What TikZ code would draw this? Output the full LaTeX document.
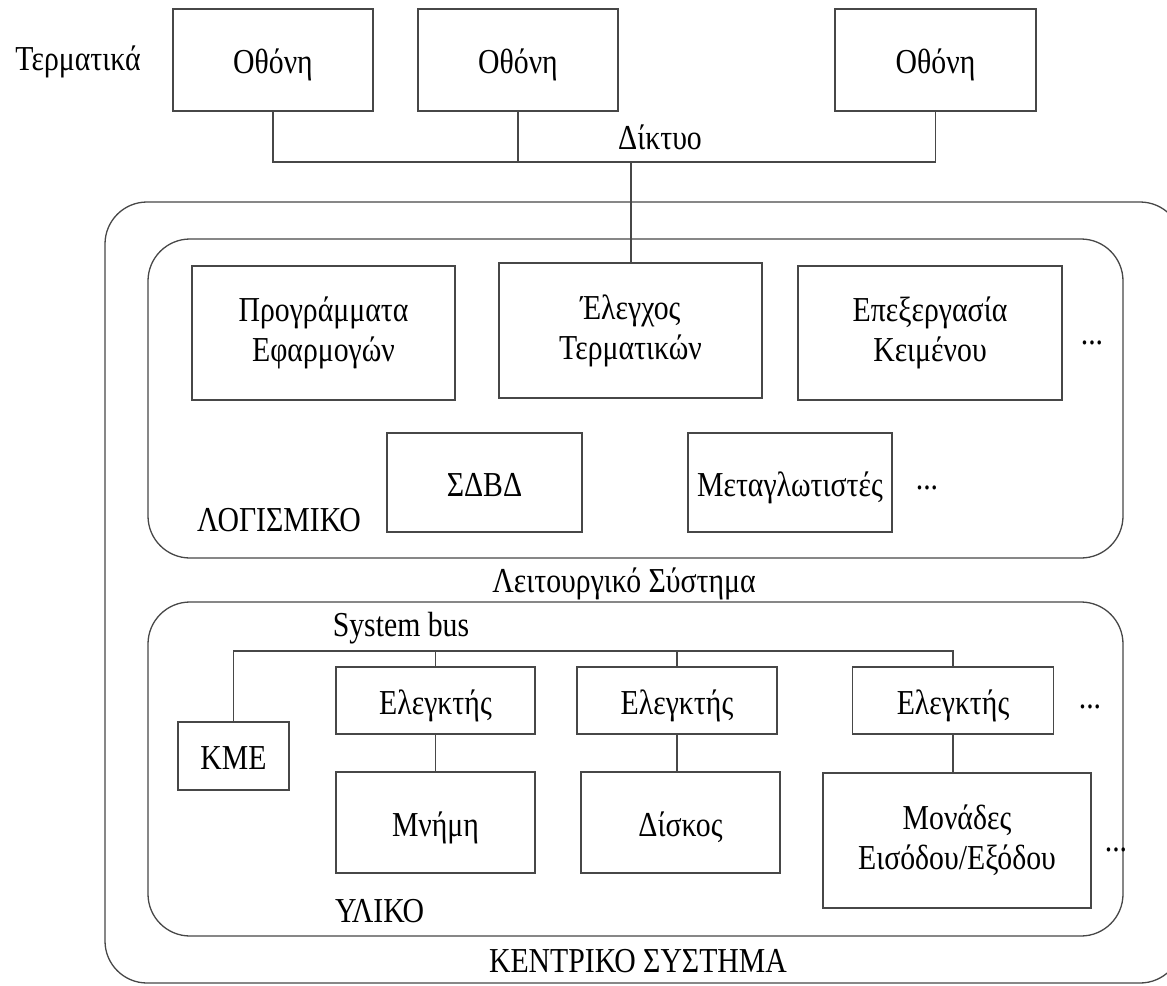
\documentclass[tikz,border=0pt]{standalone}
\usepackage{fontspec}
\setmainfont{Liberation Serif}[FakeStretch=0.85]
\newcommand\labfont{\fontsize{35}{40}\selectfont}
\begin{document}
\begin{tikzpicture}[x=1pt,y=-1pt,
  line/.style={draw=black!72, line width=1.3pt},
  box/.style={line, rectangle, inner sep=0pt, outer sep=0pt, align=center, font=\labfont},
  one/.style={text height=31pt, text depth=4pt},
  frame/.style={line, rounded corners=42pt},
  lab/.style={inner sep=0pt, font=\labfont},
  dots/.style={inner sep=0pt, font=\labfont, anchor=base}]
\useasboundingbox (0,0) rectangle (1167,985);
\clip (0,0) rectangle (1167,985);

% terminals and network
\node[lab] (term) at (78,62) {Τερματικά};
\node[box, one, minimum width=200pt, minimum height=102pt] (scr1) at (273,60) {Οθόνη};
\node[box, one, minimum width=200pt, minimum height=102pt] (scr2) at (518,60) {Οθόνη};
\node[box, one, minimum width=201pt, minimum height=102pt] (scr3) at (935.5,60) {Οθόνη};
\node[lab] (net label) at (660,137) {Δίκτυο};
\coordinate (net) at (631,162);

% central system frames
\draw[frame] (105,202) rectangle (1182,983);
\draw[frame] (148,239) rectangle (1123,558);
\draw[frame] (148,602) rectangle (1123,936);

% software
\node[box, minimum width=263pt, minimum height=134pt] (prog) at (323.5,333) {Προγράμματα\\Εφαρμογών};
\node[box, minimum width=263pt, minimum height=135pt] (ctlterm) at (630.5,330.5) {Έλεγχος\\Τερματικών};
\node[box, minimum width=264pt, minimum height=134pt] (edit) at (930,333) {Επεξεργασία\\Κειμένου};
\node[dots] (dots1) at (1092,344) {...};
\node[box, one, minimum width=195pt, minimum height=99pt] (dbms) at (484.5,482.5) {ΣΔΒΔ};
\node[box, one, minimum width=204pt, minimum height=99pt] (comp) at (790,482.5) {Μεταγλωτιστές};
\node[dots] (dots2) at (927,489) {...};
\node[lab, anchor=west] (sw) at (197,520) {ΛΟΓΙΣΜΙΚΟ};
\node[lab] (os) at (624,584) {Λειτουργικό Σύστημα};

% hardware
\node[lab] (buslabel) at (401,628) {System bus};
\coordinate (bus) at (0,651);
\node[box, one, minimum width=111pt, minimum height=68pt] (cpu) at (233.5,756) {ΚΜΕ};
\node[box, one, minimum width=199pt, minimum height=67pt] (ctl1) at (435.5,700.5) {Ελεγκτής};
\node[box, one, minimum width=200pt, minimum height=67pt] (ctl2) at (677,700.5) {Ελεγκτής};
\node[box, one, minimum width=201pt, minimum height=67pt] (ctl3) at (953,700.5) {Ελεγκτής};
\node[dots] (dots3) at (1090,708) {...};
\node[box, one, minimum width=199pt, minimum height=101pt] (mem) at (435.5,822.5) {Μνήμη};
\node[box, one, minimum width=199pt, minimum height=101pt] (disk) at (680.5,822.5) {Δίσκος};
\node[box, minimum width=268pt, minimum height=135pt] (io) at (957,840.5) {Μονάδες\\Εισόδου/Εξόδου};
\node[dots] (dots4) at (1116,851) {...};
\node[lab, anchor=west] (hw) at (335,911) {ΥΛΙΚΟ};
\node[lab] (central) at (638,961) {ΚΕΝΤΡΙΚΟ ΣΥΣΤΗΜΑ};

% network connectors
\draw[line] (scr1.south) |- (net) -| (scr3.south);
\draw[line] (scr2.south) -- (scr2.south |- net);
\draw[line] (net) -- (net |- ctlterm.north);

% system bus connectors
\draw[line] (cpu.north) |- (ctl3.north |- bus) -- (ctl3.north);
\draw[line] (ctl1.north) -- (ctl1.north |- bus);
\draw[line] (ctl2.north) -- (ctl2.north |- bus);
\draw[line] (ctl1.south) -- (mem.north);
\draw[line] (ctl2.south) -- (ctl2.south |- disk.north);
\draw[line] (ctl3.south) -- (ctl3.south |- io.north);
\end{tikzpicture}
\end{document}
